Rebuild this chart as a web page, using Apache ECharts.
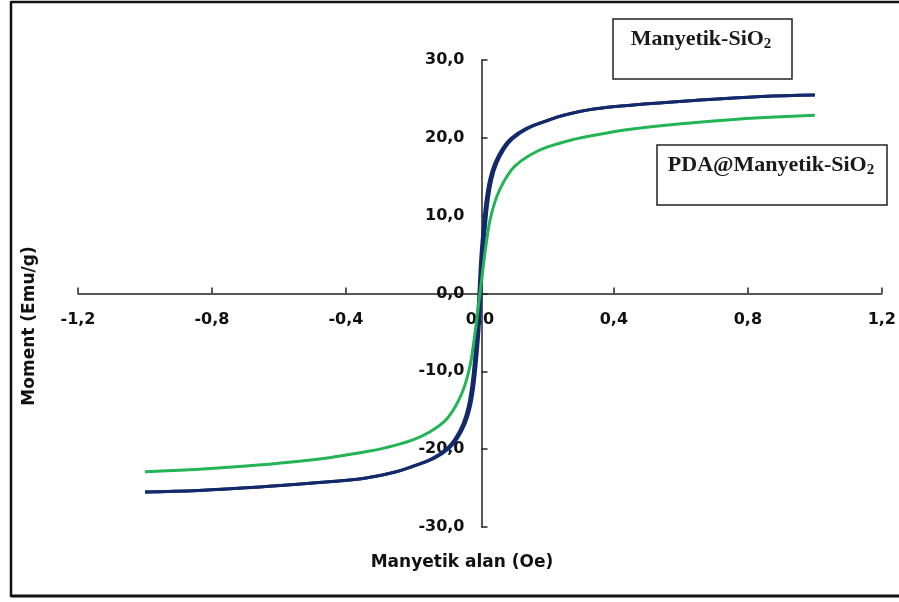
<!DOCTYPE html>
<html>
<head>
<meta charset="utf-8">
<script src="https://cdn.jsdelivr.net/npm/echarts@6/dist/echarts.min.js"></script>
<style>
  html, body { margin: 0; padding: 0; background: #fff; }
  #chart { width: 899px; height: 602px; }
</style>
</head>
<body>
<div id="chart"></div>
<script>
// Magnetization curves: field H (Oe, normalized) vs moment (emu/g)
const seriesNames = ['Manyetik-SiO2', 'PDA@Manyetik-SiO2'];

// Manyetik-SiO2, ascending field branch
const sio2Up = [
  [-1.0, -25.5], [-0.84, -25.3], [-0.64, -24.8], [-0.45, -24.2], [-0.34, -23.7],
  [-0.25, -22.9], [-0.20, -22.2], [-0.137, -21.2], [-0.092, -19.9], [-0.067, -18.6],
  [-0.044, -16.7], [-0.029, -14.6], [-0.018, -11.8], [-0.010, -8.5], [-0.003, -4.8],
  [0.003, 0.0], [0.009, 4.8], [0.016, 8.5], [0.024, 11.8], [0.035, 14.6],
  [0.050, 16.7], [0.073, 18.6], [0.098, 19.9], [0.143, 21.2], [0.20, 22.2],
  [0.25, 22.9], [0.34, 23.7], [0.45, 24.2], [0.64, 24.8], [0.84, 25.3], [1.0, 25.5]
];

// Manyetik-SiO2, descending field branch
const sio2Down = [
  [1.0, 25.5], [0.84, 25.3], [0.64, 24.8], [0.45, 24.2], [0.34, 23.7],
  [0.25, 22.9], [0.20, 22.2], [0.137, 21.2], [0.092, 19.9], [0.067, 18.6],
  [0.044, 16.7], [0.029, 14.6], [0.018, 11.8], [0.010, 8.5], [0.003, 4.8],
  [-0.003, 0.0], [-0.009, -4.8], [-0.016, -8.5], [-0.024, -11.8], [-0.035, -14.6],
  [-0.050, -16.7], [-0.073, -18.6], [-0.098, -19.9], [-0.143, -21.2], [-0.20, -22.2],
  [-0.25, -22.9], [-0.34, -23.7], [-0.45, -24.2], [-0.64, -24.8], [-0.84, -25.3], [-1.0, -25.5]
];

// PDA@Manyetik-SiO2
const pdaSio2 = [
  [-1.0, -22.9], [-0.85, -22.6], [-0.74, -22.3], [-0.60, -21.8], [-0.45, -21.1],
  [-0.35, -20.4], [-0.28, -19.8], [-0.20, -18.8], [-0.15, -17.8], [-0.105, -16.4],
  [-0.08, -15.0], [-0.06, -13.4], [-0.045, -11.8], [-0.03, -9.4], [-0.02, -6.8],
  [-0.01, -3.5], [0.0, 0.0], [0.01, 3.5], [0.02, 6.8], [0.03, 9.4],
  [0.045, 11.8], [0.06, 13.4], [0.08, 15.0], [0.105, 16.4], [0.15, 17.8],
  [0.20, 18.8], [0.28, 19.8], [0.35, 20.4], [0.45, 21.1], [0.60, 21.8],
  [0.74, 22.3], [0.85, 22.6], [1.0, 22.9]
];

const xRange = [-1.2, 1.2, 0.4];
const yRange = [-30, 30, 10];
const xTitle = 'Manyetik alan (Oe)';
const yTitle = 'Moment (Emu/g)';

const grid = { left: 78, top: 60, width: 807, height: 467 };
// axes cross at the origin: shift them into the plot area
const xAxisOffset = -grid.height * (0 - yRange[0]) / (yRange[1] - yRange[0]);
const yAxisOffset = -grid.width * (0 - xRange[0]) / (xRange[1] - xRange[0]);

const navy = '#13296b';
const green = '#22b455';
const labelFont = 'DejaVu Sans';
const fmt = v => v.toFixed(1).replace('.', ',').replace('-0,0', '0,0');

const chart = echarts.init(document.getElementById('chart'), null, { renderer: 'canvas' });

const legendText = (x, y, main) => ({
  type: 'text', x: x, y: y, z: 11,
  style: {
    text: '{a|' + main + '}{s|2}',
    textAlign: 'center', textVerticalAlign: 'middle',
    fill: '#1a1a1a',
    rich: {
      a: { fontFamily: 'Liberation Serif', fontWeight: 'bold', fontSize: 22, lineHeight: 26, fill: '#1a1a1a' },
      s: { fontFamily: 'Liberation Serif', fontWeight: 'bold', fontSize: 15, lineHeight: 16, verticalAlign: 'bottom', fill: '#1a1a1a' }
    }
  }
});

const axisCommon = {
  type: 'value',
  axisTick: { inside: true, length: 6, lineStyle: { color: '#222', width: 1.5 } },
  axisLabel: { formatter: fmt, color: '#111', fontFamily: labelFont, fontWeight: 'bold', fontSize: 16 },
  splitLine: { show: false }
};

const curve = (name, data, color, z) => ({
  name: name, type: 'line', data: data, showSymbol: false, symbol: 'none',
  smooth: 0.4, lineStyle: { color: color, width: 3, join: 'round' }, z: z
});

chart.setOption({
  animation: false,
  backgroundColor: '#fff',
  grid: grid,
  xAxis: Object.assign({}, axisCommon, {
    min: xRange[0], max: xRange[1], interval: xRange[2],
    position: 'bottom', offset: xAxisOffset,
    axisLine: { onZero: false, lineStyle: { color: '#222', width: 1.5 } },
    axisLabel: Object.assign({}, axisCommon.axisLabel, { margin: 18 })
  }),
  yAxis: Object.assign({}, axisCommon, {
    min: yRange[0], max: yRange[1], interval: yRange[2],
    position: 'left', offset: yAxisOffset,
    axisLine: { onZero: false, lineStyle: { color: '#222', width: 1.5 } },
    axisLabel: Object.assign({}, axisCommon.axisLabel, { margin: 17 })
  }),
  series: [
    curve(seriesNames[0], sio2Up, navy, 3),
    curve(seriesNames[0], sio2Down, navy, 3),
    curve(seriesNames[1], pdaSio2, green, 4)
  ],
  graphic: [
    // outer frame (left, top, bottom edges)
    { type: 'line', z: 20, shape: { x1: 11, y1: 2, x2: 899, y2: 2 }, style: { stroke: '#111', lineWidth: 2.5 } },
    { type: 'line', z: 20, shape: { x1: 11, y1: 1, x2: 11, y2: 597 }, style: { stroke: '#111', lineWidth: 2.5 } },
    { type: 'line', z: 20, shape: { x1: 11, y1: 596, x2: 899, y2: 596 }, style: { stroke: '#111', lineWidth: 3 } },
    // axis titles
    { type: 'text', x: 462, y: 563, style: { text: xTitle, textAlign: 'center', textVerticalAlign: 'middle',
        fontFamily: labelFont, fontWeight: 'bold', fontSize: 17, fill: '#111' } },
    { type: 'text', x: 30, y: 326, rotation: Math.PI / 2, style: { text: yTitle, textAlign: 'center', textVerticalAlign: 'middle',
        fontFamily: labelFont, fontWeight: 'bold', fontSize: 17, fill: '#111' } },
    // series labels in boxes
    { type: 'rect', z: 10, shape: { x: 613, y: 19, width: 179, height: 60 },
      style: { fill: '#fff', stroke: '#222', lineWidth: 1.5 } },
    legendText(701, 39, 'Manyetik-SiO'),
    { type: 'rect', z: 10, shape: { x: 657, y: 145, width: 230, height: 60 },
      style: { fill: '#fff', stroke: '#222', lineWidth: 1.5 } },
    legendText(771, 165, 'PDA@Manyetik-SiO')
  ]
});
</script>
</body>
</html>
